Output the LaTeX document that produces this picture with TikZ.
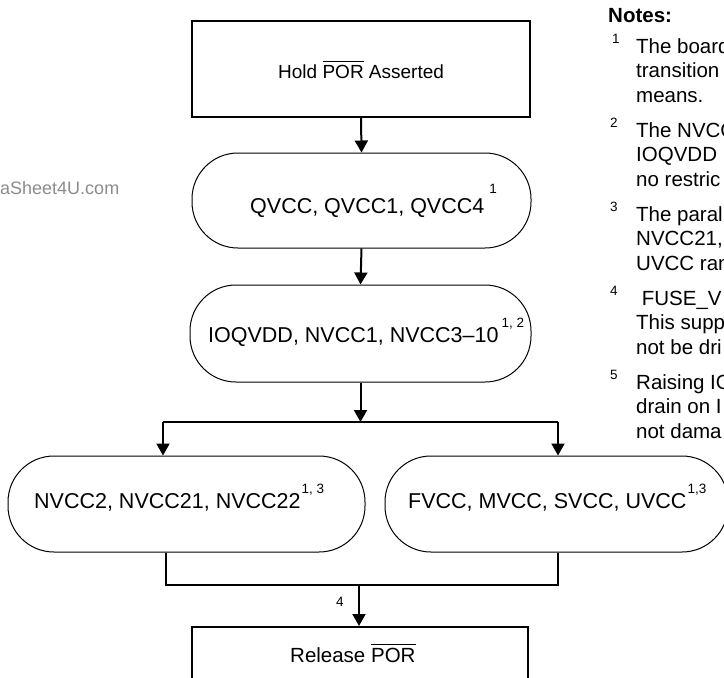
\documentclass[tikz,border=0pt]{standalone}
\usepackage{fontspec}
\setmainfont{Liberation Sans}
\usetikzlibrary{arrows.meta}
\newcommand\ovl[1]{\setbox0\hbox{#1}\rlap{\rule[\dimexpr\ht0+2.5pt\relax]{\wd0}{1.3pt}}\box0}
\newcommand\sps[2][15pt]{\raisebox{#1}{\fontsize{13.5}{14}\selectfont #2}}
\tikzset{
  sqbox/.style={draw, line width=2pt, inner sep=0pt},
  rbox/.style={draw, line width=1pt, rounded corners=46pt, inner sep=0pt},
  conn/.style={line width=2pt},
  arr/.style={conn, -{Triangle[length=12pt,width=13pt]}},
  txt/.style={inner sep=0pt, anchor=base west, font=\fontsize{21.5}{24}\selectfont},
  holdtxt/.style={inner sep=0pt, anchor=base west, font=\fontsize{19}{22}\selectfont},
  reltxt/.style={inner sep=0pt, anchor=base west, font=\fontsize{20.5}{24}\selectfont},
  notetxt/.style={inner sep=0pt, anchor=base west, font=\fontsize{20.5}{24}\selectfont},
  notehead/.style={inner sep=0pt, anchor=base west, font=\fontsize{20.5}{24}\selectfont\bfseries},
  num/.style={inner sep=0pt, anchor=base west, font=\fontsize{13.5}{14}\selectfont},
  wmark/.style={inner sep=0pt, anchor=base west, text=black!45, font=\fontsize{18}{20}\selectfont},
}
\begin{document}
\begin{tikzpicture}[x=1pt,y=-1pt]
\useasboundingbox (0,0) rectangle (724,678);
% boxes
\node[sqbox, minimum width=338pt, minimum height=96pt] (hold) at (361,69) {};
\node[rbox, minimum width=339pt, minimum height=95pt] (q) at (361.5,200.5) {};
\node[rbox, minimum width=341pt, minimum height=97pt] (io) at (360.5,333.5) {};
\node[rbox, minimum width=357pt, minimum height=96pt] (nl) at (186.5,504) {};
\node[rbox, minimum width=343pt, minimum height=96pt] (nr) at (556.5,504) {};
\node[sqbox, minimum width=336pt, minimum height=73pt] (rel) at (360,663.5) {};
% texts
\node[holdtxt] (tHold) at (278,78) {Hold \ovl{POR}\ Asserted};
\node[txt] (tQ) at (250,213) {QVCC, QVCC1, QVCC4\hspace{5pt}\sps[20pt]{1}};
\node[txt] (tIO) at (208,342) {IOQVDD, NVCC1, NVCC3–10\hspace{3pt}\sps{1, 2}};
\node[txt] (tNL) at (34,508) {NVCC2, NVCC21, NVCC22\hspace{1pt}\sps{1, 3}};
\node[txt] (tNR) at (408,508) {FVCC, MVCC, SVCC, UVCC\hspace{1pt}\sps{1,3}};
\node[reltxt] (tRel) at (290,662) {Release \ovl{POR}};
% connectors
\draw[arr] (hold.south) -- (q.north);
\draw[arr] (q.south) -- (io.north);
\coordinate (sp) at (360.5,422);
\coordinate (spl) at (163,422);
\coordinate (spr) at (558,422);
\draw[arr] (io.south) -- (sp);
\draw[conn] (spl) -- (spr);
\draw[arr] (spl) -- (spl |- nl.north);
\draw[arr] (spr) -- (spr |- nr.north);
\coordinate (jl) at (166,585);
\coordinate (jr) at (558,585);
\coordinate (jm) at (359,585);
\draw[conn] (jl |- nl.south) -- (jl) -- (jr) -- (jr |- nr.south);
\draw[arr] (jm) -- (jm |- rel.north);
\node[num, anchor=center] (l4) at (340,602) {4};
% watermark
\node[wmark] (wm) at (0,194) {aSheet4U.com};
% notes
\node[notehead] (nh) at (608,22) {Notes:};
\node[num] (n1) at (612,43.5) {1};
\node[notetxt] (a1) at (636,53) {The board};
\node[notetxt] (a2) at (636,77.75) {transition};
\node[notetxt] (a3) at (636,102.5) {means.};
\node[num] (n2) at (610,127.5) {2};
\node[notetxt] (b1) at (636,137) {The NVCC};
\node[notetxt] (b2) at (636,161.75) {IOQVDD};
\node[notetxt] (b3) at (636,186.5) {no restric};
\node[num] (n3) at (610,211.5) {3};
\node[notetxt] (c1) at (636,221) {The paral};
\node[notetxt] (c2) at (636,245.75) {NVCC21,};
\node[notetxt] (c3) at (636,270.5) {UVCC ran};
\node[num] (n4) at (610,295.5) {4};
\node[notetxt] (d1) at (636,305) {\ FUSE\_V};
\node[notetxt] (d2) at (636,329.75) {This supp};
\node[notetxt] (d3) at (636,354.5) {not be dri};
\node[num] (n5) at (610,379.5) {5};
\node[notetxt] (e1) at (636,389) {Raising IO};
\node[notetxt] (e2) at (636,413.75) {drain on I};
\node[notetxt] (e3) at (636,438.5) {not dama};
\end{tikzpicture}
\end{document}
